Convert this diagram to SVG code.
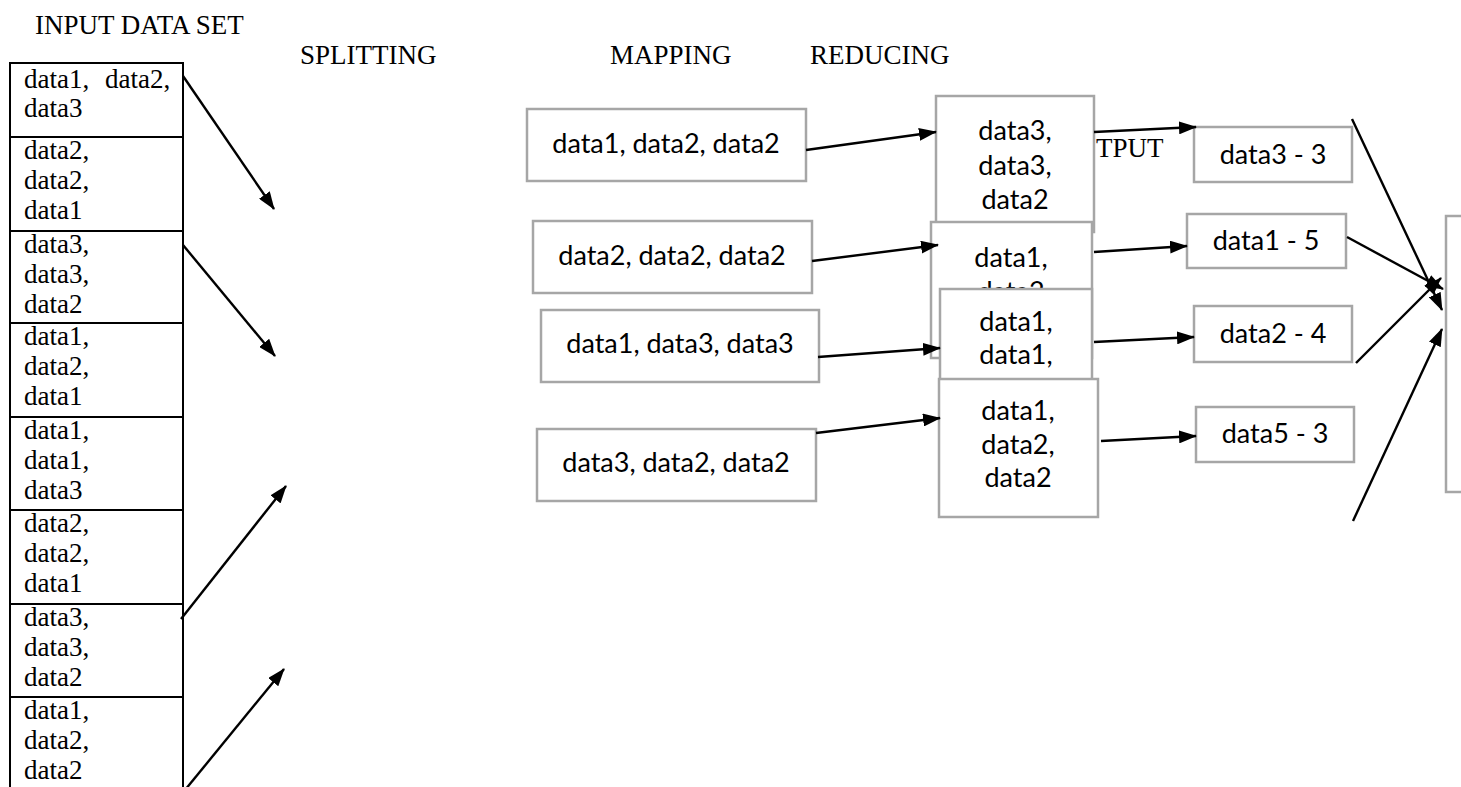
<svg xmlns="http://www.w3.org/2000/svg" width="1461" height="787" viewBox="0 0 1461 787">
<defs>
<marker id="ah" viewBox="0 0 18 13" refX="17" refY="6.5" markerWidth="18" markerHeight="13" markerUnits="userSpaceOnUse" orient="auto">
<path d="M0,0 L18,6.5 L0,13 z" fill="#000"/>
</marker>
<style>
.serif{font-family:"Liberation Serif","Times New Roman",serif;font-size:27px;fill:#000}
.sans{font-family:Lato,"Open Sans",sans-serif;font-size:27px;fill:#000;text-anchor:middle}
.tbl{fill:#fff;stroke:#000;stroke-width:2}
.div{stroke:#000;stroke-width:2}
.box{fill:#fff;stroke:#a6a6a6;stroke-width:2.5}
.arr{stroke:#000;stroke-width:2.4;fill:none;marker-end:url(#ah)}
</style>
</defs>
<rect width="1461" height="787" fill="#fff"/>
<g id="headers">
<text class="serif" x="35" y="34">INPUT DATA SET</text>
<text class="serif" x="300" y="64">SPLITTING</text>
<text class="serif" x="610" y="64">MAPPING</text>
<text class="serif" x="810" y="64">REDUCING</text>
<text class="serif" x="1096" y="157">TPUT</text>
</g>
<g id="input-table">
<rect class="tbl" x="10" y="63" width="173" height="740"/>
<line class="div" x1="10" y1="137" x2="183" y2="137"/>
<line class="div" x1="10" y1="231" x2="183" y2="231"/>
<line class="div" x1="10" y1="323" x2="183" y2="323"/>
<line class="div" x1="10" y1="417" x2="183" y2="417"/>
<line class="div" x1="10" y1="510" x2="183" y2="510"/>
<line class="div" x1="10" y1="604" x2="183" y2="604"/>
<line class="div" x1="10" y1="697" x2="183" y2="697"/>
<g id="row1"><text class="serif" x="24" y="88">data1,</text><text class="serif" x="105" y="88">data2,</text><text class="serif" x="24" y="117">data3</text></g>
<g id="row2"><text class="serif" x="24" y="159">data2,</text><text class="serif" x="24" y="189">data2,</text><text class="serif" x="24" y="219">data1</text></g>
<g id="row3"><text class="serif" x="24" y="253">data3,</text><text class="serif" x="24" y="283">data3,</text><text class="serif" x="24" y="313">data2</text></g>
<g id="row4"><text class="serif" x="24" y="345">data1,</text><text class="serif" x="24" y="375">data2,</text><text class="serif" x="24" y="405">data1</text></g>
<g id="row5"><text class="serif" x="24" y="439">data1,</text><text class="serif" x="24" y="469">data1,</text><text class="serif" x="24" y="499">data3</text></g>
<g id="row6"><text class="serif" x="24" y="532">data2,</text><text class="serif" x="24" y="562">data2,</text><text class="serif" x="24" y="592">data1</text></g>
<g id="row7"><text class="serif" x="24" y="626">data3,</text><text class="serif" x="24" y="656">data3,</text><text class="serif" x="24" y="686">data2</text></g>
<g id="row8"><text class="serif" x="24" y="719">data1,</text><text class="serif" x="24" y="749">data2,</text><text class="serif" x="24" y="779">data2</text></g>
</g>
<g id="map1"><rect class="box" x="527" y="109" width="279" height="72"/><text class="sans" x="666" y="153">data1, data2, data2</text></g>
<g id="map2"><rect class="box" x="533" y="221" width="279" height="72"/><text class="sans" x="672" y="265">data2, data2, data2</text></g>
<g id="map3"><rect class="box" x="541" y="310" width="278" height="72"/><text class="sans" x="680" y="353">data1, data3, data3</text></g>
<g id="map4"><rect class="box" x="537" y="429" width="279" height="72"/><text class="sans" x="676" y="472">data3, data2, data2</text></g>
<g id="red1"><rect class="box" x="936" y="96" width="158" height="136"/><text class="sans" x="1015" y="140">data3,</text><text class="sans" x="1015" y="175">data3,</text><text class="sans" x="1015" y="209">data2</text></g>
<g id="red2"><rect class="box" x="931" y="222" width="161" height="136"/><text class="sans" x="1011" y="267">data1,</text><text class="sans" x="1011" y="301">data2</text></g>
<g id="red3"><rect class="box" x="940" y="289" width="152" height="110"/><text class="sans" x="1016" y="331">data1,</text><text class="sans" x="1016" y="364">data1,</text></g>
<g id="red4"><rect class="box" x="939" y="379" width="159" height="138"/><text class="sans" x="1018" y="420">data1,</text><text class="sans" x="1018" y="454">data2,</text><text class="sans" x="1018" y="487">data2</text></g>
<g id="out1"><rect class="box" x="1194" y="127" width="158" height="55"/><text class="sans" x="1273" y="164">data3 - 3</text></g>
<g id="out2"><rect class="box" x="1187" y="214" width="159" height="54"/><text class="sans" x="1266" y="250">data1 - 5</text></g>
<g id="out3"><rect class="box" x="1194" y="306" width="158" height="56"/><text class="sans" x="1273" y="343">data2 - 4</text></g>
<g id="out4"><rect class="box" x="1196" y="407" width="158" height="55"/><text class="sans" x="1275" y="443">data5 - 3</text></g>
<g id="final"><rect class="box" x="1446" y="216" width="40" height="276"/></g>
<g id="connectors">
<line class="arr" x1="183" y1="76" x2="274" y2="209"/>
<line class="arr" x1="183" y1="245" x2="275" y2="356"/>
<line class="arr" x1="181" y1="619" x2="286" y2="486"/>
<line class="arr" x1="185" y1="790" x2="284" y2="669"/>
<line class="arr" x1="806" y1="150" x2="936" y2="132"/>
<line class="arr" x1="812" y1="261" x2="938" y2="245"/>
<line class="arr" x1="818" y1="357" x2="940" y2="348"/>
<line class="arr" x1="816" y1="433" x2="940" y2="418"/>
<line class="arr" x1="1094" y1="132" x2="1196" y2="127"/>
<line class="arr" x1="1094" y1="252" x2="1187" y2="246"/>
<line class="arr" x1="1094" y1="342" x2="1194" y2="337"/>
<line class="arr" x1="1101" y1="441" x2="1196" y2="436"/>
<line class="arr" x1="1352" y1="119" x2="1442" y2="310"/>
<line class="arr" x1="1347" y1="237" x2="1443" y2="289"/>
<line class="arr" x1="1356" y1="363" x2="1441" y2="278"/>
<line class="arr" x1="1353" y1="521" x2="1442" y2="329"/>
</g>
</svg>
